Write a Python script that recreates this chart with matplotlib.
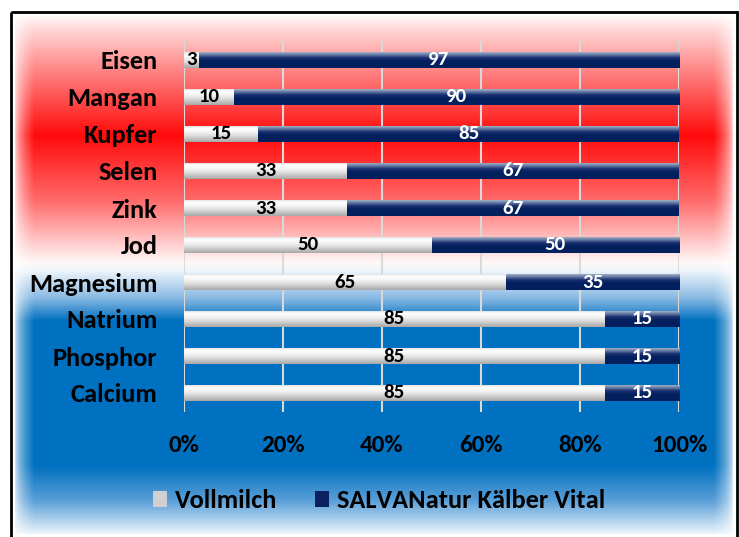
import numpy as np
import matplotlib
matplotlib.use("Agg")
import matplotlib.pyplot as plt
from matplotlib.patches import Rectangle, Patch
from matplotlib.colors import to_rgb

categories = ["Eisen", "Mangan", "Kupfer", "Selen", "Zink", "Jod",
              "Magnesium", "Natrium", "Phosphor", "Calcium"]
vollmilch = [3, 10, 15, 33, 33, 50, 65, 85, 85, 85]
salva = [97, 90, 85, 67, 67, 50, 35, 15, 15, 15]
xticks = [0, 20, 40, 60, 80, 100]
xticklabels = ["0%", "20%", "40%", "60%", "80%", "100%"]
series_names = ["Vollmilch", "SALVANatur Kälber Vital"]

FONT = ["Carlito", "Lato", "DejaVu Sans"]
plt.rcParams['font.family'] = FONT
plt.rcParams['font.weight'] = 'bold'

W, H = 739, 537
fig = plt.figure(figsize=(W / 100, H / 100), dpi=100)
fig.patch.set_facecolor("white")

# background gradient
bg = fig.add_axes([0, 0, 1, 1], zorder=0)
bg.set_axis_off()
ys = np.arange(H)
stops_y = [14, 28, 65, 135, 200, 262, 270, 298, 320, 465, 500, 533]
stops_c = ["#ffffff", "#ffd8d8", "#ff8e8e", "#ff0a0a", "#ff6a6a", "#fff8f8",
           "#eef5fb", "#86b8e2", "#0070c0", "#0070c0", "#5a9fd8", "#eaf4fb"]
cols = np.array([to_rgb(c) for c in stops_c])
col_v = np.stack([np.interp(ys, stops_y, cols[:, k]) for k in range(3)], axis=1)
xs = np.arange(W)
fade = np.clip(np.minimum(xs - 14, 733 - xs) / 20.0, 0, 1)
fade = np.sqrt(fade)
img = col_v[:, None, :] * fade[None, :, None] + (1 - fade[None, :, None])
img[:, :13] = 1
img[:, 734:] = 1
img[:14] = 1
img[534:] = 1
bg.imshow(img, extent=[0, W, H, 0], aspect='auto', interpolation='bilinear')
bg.set_xlim(0, W)
bg.set_ylim(H, 0)
bg.add_patch(Rectangle((10.5, 11.5), 726, 560, fill=False, edgecolor="black", lw=2))

# main axes
left, right = 184 / W, 679 / W
top, bottom = 1 - 41.5 / H, 1 - 411.5 / H
ax = fig.add_axes([left, bottom, right - left, top - bottom], zorder=1)
ax.patch.set_alpha(0)
for s in ax.spines.values():
    s.set_visible(False)

y = np.arange(len(categories))
h = 0.45
b1 = ax.barh(y, vollmilch, height=h, color="#c8c8c8", zorder=3)
b2 = ax.barh(y, salva, left=vollmilch, height=h, color="#0a2060", zorder=3)

grad_gray = np.array([to_rgb(c) for c in ["#d8d8d8", "#ffffff", "#f4f4f4", "#e0e0e0", "#c4c4c4", "#a8a8a8"]])
grad_navy = np.array([to_rgb(c) for c in ["#b8c0d0", "#6a7fa8", "#1a3070", "#03205e", "#03205e", "#03205e"]])
def gimg(g):
    t = np.linspace(0, 1, 50)
    tt = np.linspace(0, 1, len(g))
    return np.stack([np.interp(t, tt, g[:, k]) for k in range(3)], axis=1)[:, None, :]
gg, gn = gimg(grad_gray), gimg(grad_navy)
for bars, g in ((b1, gg), (b2, gn)):
    for p in bars:
        x0, y0 = p.get_x(), p.get_y()
        w, hh = p.get_width(), p.get_height()
        im = ax.imshow(g, extent=[x0, x0 + w, y0 + hh, y0], aspect='auto',
                       origin='upper', zorder=4, interpolation='bilinear')
        im.set_clip_path(p)

for i in y:
    v1, v2 = vollmilch[i], salva[i]
    ax.text(v1 / 2 if v1 > 4 else 1.6, i, str(v1), ha='center', va='center',
            fontsize=15, fontweight='bold', color='black', zorder=5)
    ax.text(v1 + v2 / 2, i, str(v2), ha='center', va='center',
            fontsize=15, fontweight='bold', color='white', zorder=5)

ax.set_xlim(0, 100)
ax.set_ylim(len(categories) - 0.5, -0.5)
ax.set_xticks(xticks)
ax.set_xticklabels(xticklabels, fontsize=18, fontweight='bold')
ax.set_yticks(y)
ax.set_yticklabels(categories, fontsize=19, fontweight='bold')
ax.tick_params(axis='x', length=0, pad=17)
ax.tick_params(axis='y', length=0, pad=19)
ax.xaxis.grid(True, color="#d9d9d9", lw=1.5, zorder=1)
ax.set_axisbelow(True)

handles = [Patch(facecolor="#d0d0d0", edgecolor="none"), Patch(facecolor="#0a2060", edgecolor="none")]
leg = fig.legend(handles, series_names, loc='center', bbox_to_anchor=(379 / W, 1 - 501 / H),
                 ncol=2, frameon=False, prop={'size': 19, 'weight': 'bold'},
                 handlelength=0.55, handleheight=0.55, handletextpad=0.3, columnspacing=1.4)

fig.savefig("out.png", dpi=100)
